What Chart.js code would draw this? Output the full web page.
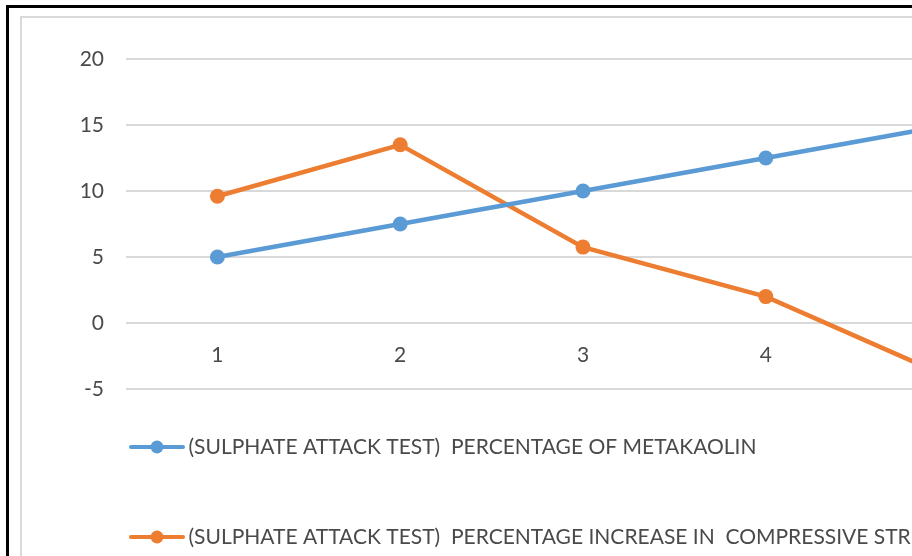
<!DOCTYPE html>
<html lang="en">
<head>
    <meta charset="UTF-8">
    <title>Sulphate attack test</title>
    <style>
        html, body {
            margin: 0;
            padding: 0;
            background: #ffffff;
            overflow: hidden;
            width: 912px;
            height: 556px;
        }
        .frame {
            position: absolute;
            left: 6px;
            top: 5px;
            width: 1200px;
            height: 700px;
            border-left: 3px solid #000;
            border-top: 3px solid #000;
        }
        .chart-box {
            position: absolute;
            left: 20px;
            top: 16px;
            border: 2px solid #d9d9d9;
            background: #fff;
        }
        canvas { display: block; }
    </style>
    <script src="https://cdn.jsdelivr.net/npm/chart.js"></script>
</head>
<body>
    <div class="frame"></div>
    <div class="chart-box">
        <canvas id="chart" width="1040" height="600"></canvas>
    </div>

    <script>
        // data
        const categories = ['1', '2', '3', '4', '5'];
        const metakaolin = [5, 7.5, 10, 12.5, 15];
        const strengthIncrease = [9.6, 13.5, 5.75, 2.0, -4.1];
        const seriesNames = [
            '(SULPHATE ATTACK TEST)  PERCENTAGE OF METAKAOLIN',
            '(SULPHATE ATTACK TEST)  PERCENTAGE INCREASE IN  COMPRESSIVE STRENGTH'
        ];
        const yMin = -5, yMax = 20, yStep = 5;

        const blue = '#5b9bd5';
        const orange = '#ed7d31';
        const textGrey = '#4a4a4a';
        const font = 'Lato';

        // legend marker: line with a dot in the middle, like Excel
        function makeMarker(color) {
            const c = document.createElement('canvas');
            c.width = 56;
            c.height = 16;
            const g = c.getContext('2d');
            g.strokeStyle = color;
            g.lineWidth = 4;
            g.lineCap = 'round';
            g.beginPath();
            g.moveTo(2, 8);
            g.lineTo(54, 8);
            g.stroke();
            g.fillStyle = color;
            g.beginPath();
            g.arc(28, 8, 6.5, 0, Math.PI * 2);
            g.fill();
            return c;
        }
        const markers = [makeMarker(blue), makeMarker(orange)];

        // Excel puts the legend closer to the plot than chart.js would
        const legendLift = {
            id: 'legendLift',
            afterLayout(chart) {
                chart.legend.top -= 21.5;
                chart.legend.bottom -= 21.5;
            }
        };

        new Chart(document.getElementById('chart'), {
            type: 'line',
            data: {
                labels: categories,
                datasets: [{
                    label: seriesNames[0],
                    data: metakaolin,
                    borderColor: blue,
                    backgroundColor: blue,
                    borderWidth: 4.5,
                    pointRadius: 7.5,
                    pointBorderWidth: 0,
                    tension: 0
                }, {
                    label: seriesNames[1],
                    data: strengthIncrease,
                    borderColor: orange,
                    backgroundColor: orange,
                    borderWidth: 4.5,
                    pointRadius: 7.5,
                    pointBorderWidth: 0,
                    tension: 0
                }]
            },
            options: {
                responsive: false,
                animation: false,
                events: [],
                layout: {
                    padding: { left: 45, top: 41, right: 22, bottom: 39 }
                },
                scales: {
                    x: {
                        position: { y: 0 },
                        offset: true,
                        grid: { display: false, drawTicks: false },
                        border: { display: false },
                        ticks: {
                            color: textGrey,
                            padding: 20,
                            font: { family: font, size: 21 }
                        }
                    },
                    y: {
                        min: yMin,
                        max: yMax,
                        grid: { color: '#d9d9d9', lineWidth: 2, drawTicks: false },
                        border: { display: false },
                        ticks: {
                            stepSize: yStep,
                            color: textGrey,
                            padding: 22,
                            font: { family: font, size: 21 }
                        },
                        afterFit(scale) {
                            scale.width = 59;
                        }
                    }
                },
                plugins: {
                    tooltip: { enabled: false },
                    legend: {
                        position: 'bottom',
                        align: 'start',
                        labels: {
                            color: textGrey,
                            font: { family: font, size: 21 },
                            padding: 69,
                            usePointStyle: true,
                            pointStyleWidth: 42,
                            generateLabels(chart) {
                                const items = Chart.defaults.plugins.legend.labels.generateLabels(chart);
                                items.forEach((item, i) => { item.pointStyle = markers[i]; });
                                return items;
                            }
                        }
                    }
                }
            },
            plugins: [legendLift]
        });
    </script>
</body>
</html>
